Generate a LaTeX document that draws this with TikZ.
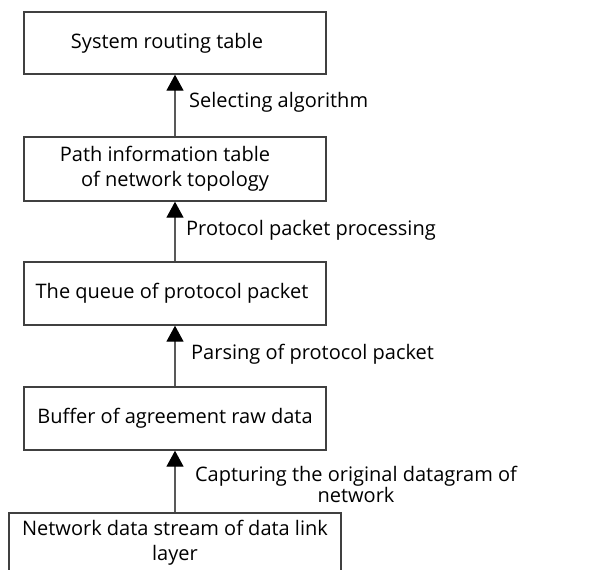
\documentclass[tikz,border=0pt]{standalone}
\usepackage{fontspec}
\setmainfont{Open Sans}
\usetikzlibrary{arrows.meta}
\begin{document}
\begin{tikzpicture}[x=1pt,y=-1pt,
  box/.style={draw=black!75,line width=1.4pt,minimum width=302pt,inner sep=0pt,align=center,
    font=\fontsize{20}{25}\selectfont},
  conn/.style={draw=black!65,line width=1.4pt,-{Triangle[width=17pt,length=16pt,black]}},
  lbl/.style={font=\fontsize{20}{17.5}\selectfont,inner sep=0pt,align=center}]
\useasboundingbox (0,0) rectangle (614,570);
\node[box,minimum height=62pt] (b1) at (175,43) {System routing table\hspace*{16pt}};
\node[box,minimum height=64pt] (b2) at (175,169) {Path information table\hspace*{20pt}\\ of network topology};
\node[box,minimum height=63pt] (b3) at (175,293.5) {The queue of protocol packet\hspace*{6pt}};
\node[box,minimum height=63pt] (b4) at (175,418.5) {Buffer of agreement raw data};
\node[box,minimum height=60pt,minimum width=332pt] (b5) at (175,543) {Network data stream of data link\\layer};
\draw[conn] (b2.north) -- (b1.south);
\draw[conn] (b3.north) -- (b2.south);
\draw[conn] (b4.north) -- (b3.south);
\draw[conn] (b5.north) -- (b4.south);
\node[lbl,anchor=west] (l1) at (189,102) {Selecting algorithm};
\node[lbl,anchor=west] (l2) at (186,230) {Protocol packet processing};
\node[lbl,anchor=west] (l3) at (191,354) {Parsing of protocol packet};
\node[lbl] (l4) at (356,484) {Capturing the original datagram of\\network};
\end{tikzpicture}
\end{document}
